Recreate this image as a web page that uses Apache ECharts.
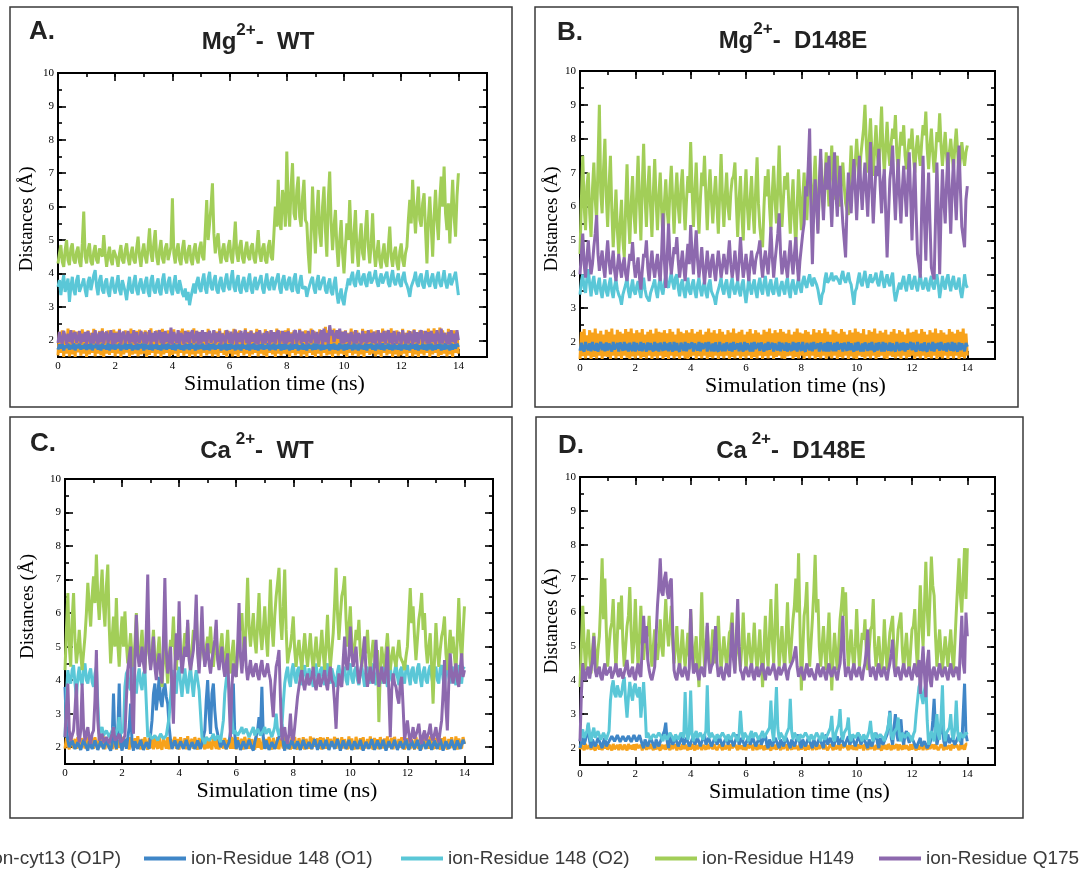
<!DOCTYPE html>
<html><head><meta charset="utf-8">
<script src="https://cdn.jsdelivr.net/npm/echarts@6/dist/echarts.min.js"></script>
<style>html,body{margin:0;padding:0;background:#fff}#c{width:1088px;height:872px}</style>
</head><body><div id="c"></div>
<script>
// ---------- data (sampled every 0.05 ns) ----------
const TIME = [
0,0.05,0.1,0.15,0.2,0.25,0.3,0.35,0.4,0.45,0.5,0.55,0.6,0.65,0.7,0.75,0.8,0.85,0.9,0.95,
1,1.05,1.1,1.15,1.2,1.25,1.3,1.35,1.4,1.45,1.5,1.55,1.6,1.65,1.7,1.75,1.8,1.85,1.9,1.95,
2,2.05,2.1,2.15,2.2,2.25,2.3,2.35,2.4,2.45,2.5,2.55,2.6,2.65,2.7,2.75,2.8,2.85,2.9,2.95,
3,3.05,3.1,3.15,3.2,3.25,3.3,3.35,3.4,3.45,3.5,3.55,3.6,3.65,3.7,3.75,3.8,3.85,3.9,3.95,
4,4.05,4.1,4.15,4.2,4.25,4.3,4.35,4.4,4.45,4.5,4.55,4.6,4.65,4.7,4.75,4.8,4.85,4.9,4.95,
5,5.05,5.1,5.15,5.2,5.25,5.3,5.35,5.4,5.45,5.5,5.55,5.6,5.65,5.7,5.75,5.8,5.85,5.9,5.95,
6,6.05,6.1,6.15,6.2,6.25,6.3,6.35,6.4,6.45,6.5,6.55,6.6,6.65,6.7,6.75,6.8,6.85,6.9,6.95,
7,7.05,7.1,7.15,7.2,7.25,7.3,7.35,7.4,7.45,7.5,7.55,7.6,7.65,7.7,7.75,7.8,7.85,7.9,7.95,
8,8.05,8.1,8.15,8.2,8.25,8.3,8.35,8.4,8.45,8.5,8.55,8.6,8.65,8.7,8.75,8.8,8.85,8.9,8.95,
9,9.05,9.1,9.15,9.2,9.25,9.3,9.35,9.4,9.45,9.5,9.55,9.6,9.65,9.7,9.75,9.8,9.85,9.9,9.95,
10,10.05,10.1,10.15,10.2,10.25,10.3,10.35,10.4,10.45,10.5,10.55,10.6,10.65,10.7,10.75,10.8,10.85,10.9,10.95,
11,11.05,11.1,11.15,11.2,11.25,11.3,11.35,11.4,11.45,11.5,11.55,11.6,11.65,11.7,11.75,11.8,11.85,11.9,11.95,
12,12.05,12.1,12.15,12.2,12.25,12.3,12.35,12.4,12.45,12.5,12.55,12.6,12.65,12.7,12.75,12.8,12.85,12.9,12.95,
13,13.05,13.1,13.15,13.2,13.25,13.3,13.35,13.4,13.45,13.5,13.55,13.6,13.65,13.7,13.75,13.8,13.85,13.9,13.95,
14];
const SERIES_NAMES = ['ion-cyt13 (O1P)','ion-Residue 148 (O1)','ion-Residue 148 (O2)','ion-Residue H149','ion-Residue Q175'];
const X_LABELS = [0,2,4,6,8,10,12,14];
const Y_LABELS = [2,3,4,5,6,7,8,9,10];
const PANEL_TAGS = ['A.','B.','C.','D.'];
const PANEL_ION = ['Mg','Mg','Ca','Ca'];
const PANEL_SUP = ['2+','2+',' 2+',' 2+'];
const PANEL_REST = ['-  WT','-  D148E','-  WT','-  D148E'];

// ===== Panel A: Mg2+ WT =====
const A_O1P = [
1.55,2.25,1.62,2.3,1.5,2.18,1.6,2.35,1.52,2.22,1.58,2.3,1.5,2.26,1.64,2.2,1.54,2.33,1.6,2.24,
1.5,2.3,1.58,2.22,1.62,2.34,1.52,2.2,1.6,2.28,1.55,2.36,1.5,2.24,1.6,2.3,1.56,2.2,1.62,2.32,
1.52,2.26,1.6,2.34,1.5,2.22,1.58,2.3,1.63,2.25,1.5,2.35,1.57,2.2,1.6,2.28,1.52,2.32,1.58,2.24,
1.6,2.3,1.5,2.25,1.56,2.36,1.62,2.2,1.52,2.3,1.6,2.27,1.5,2.34,1.58,2.22,1.62,2.3,1.52,2.26,
1.56,2.33,1.6,2.2,1.5,2.28,1.62,2.35,1.54,2.24,1.6,2.3,1.5,2.22,1.58,2.36,1.52,2.28,1.6,2.25,
1.5,2.3,1.62,2.24,1.55,2.34,1.6,2.2,1.52,2.3,1.58,2.26,1.5,2.35,1.62,2.22,1.56,2.3,1.5,2.28,
1.6,2.22,1.52,2.34,1.58,2.26,1.5,2.3,1.62,2.2,1.55,2.36,1.6,2.25,1.5,2.3,1.58,2.22,1.62,2.34,
1.52,2.28,1.6,2.2,1.55,2.33,1.5,2.26,1.62,2.3,1.58,2.22,1.5,2.35,1.6,2.28,1.54,2.2,1.6,2.3,
1.58,2.36,1.5,2.24,1.62,2.3,1.55,2.2,1.6,2.34,1.52,2.26,1.58,2.3,1.5,2.22,1.62,2.35,1.56,2.28,
1.5,2.22,1.6,2.33,1.52,2.27,1.62,2.4,1.55,2.3,1.58,2.24,1.5,2.35,1.6,2.2,1.54,2.3,1.6,2.26,
1.56,2.3,1.5,2.22,1.62,2.35,1.55,2.26,1.6,2.3,1.52,2.2,1.58,2.34,1.5,2.28,1.62,2.22,1.56,2.32,
1.6,2.26,1.52,2.3,1.58,2.2,1.5,2.35,1.62,2.28,1.55,2.22,1.6,2.36,1.5,2.25,1.58,2.3,1.52,2.24,
1.55,2.34,1.6,2.22,1.5,2.3,1.62,2.26,1.52,2.33,1.58,2.2,1.5,2.3,1.6,2.28,1.55,2.22,1.62,2.35,
1.5,2.28,1.58,2.36,1.62,2.25,1.5,2.38,1.56,2.3,1.6,2.22,1.52,2.34,1.58,2.27,1.5,2.3,1.62,2.24,
1.6];
const A_O1 = [
1.72,1.88,1.75,1.9,1.7,1.84,1.78,1.9,1.72,1.86,1.74,1.91,1.7,1.87,1.76,1.9,1.72,1.85,1.75,1.9,
1.71,1.88,1.74,1.91,1.7,1.86,1.77,1.9,1.72,1.87,1.7,1.9,1.75,1.85,1.72,1.91,1.7,1.88,1.74,1.9,
1.72,1.87,1.76,1.9,1.7,1.86,1.74,1.91,1.72,1.88,1.75,1.9,1.7,1.85,1.73,1.9,1.71,1.88,1.76,1.9,
1.7,1.9,1.74,1.86,1.72,1.91,1.7,1.87,1.75,1.9,1.72,1.85,1.7,1.9,1.74,1.88,1.72,1.9,1.76,1.86,
1.72,1.91,1.7,1.87,1.75,1.9,1.72,1.85,1.7,1.9,1.74,1.88,1.71,1.91,1.76,1.86,1.7,1.9,1.73,1.87,
1.75,1.9,1.71,1.86,1.72,1.91,1.7,1.88,1.74,1.9,1.72,1.85,1.76,1.9,1.7,1.87,1.73,1.91,1.7,1.88,
1.72,1.9,1.75,1.86,1.7,1.91,1.73,1.87,1.7,1.9,1.76,1.85,1.72,1.9,1.7,1.88,1.74,1.91,1.72,1.86,
1.7,1.88,1.74,1.9,1.72,1.85,1.75,1.91,1.7,1.87,1.73,1.9,1.71,1.86,1.76,1.9,1.7,1.88,1.72,1.91,
1.74,1.86,1.7,1.9,1.72,1.88,1.75,1.9,1.7,1.85,1.73,1.91,1.72,1.87,1.7,1.9,1.76,1.86,1.71,1.9,
1.72,1.9,1.74,1.87,1.7,1.91,1.72,1.85,1.75,1.9,1.7,1.88,1.73,1.9,1.72,1.86,1.7,1.91,1.74,1.87,
1.7,1.88,1.72,1.9,1.75,1.86,1.7,1.91,1.73,1.87,1.7,1.9,1.74,1.85,1.72,1.9,1.7,1.88,1.76,1.9,
1.72,1.86,1.7,1.9,1.74,1.88,1.72,1.91,1.7,1.86,1.75,1.9,1.72,1.87,1.7,1.91,1.73,1.85,1.72,1.9,
1.7,1.87,1.74,1.9,1.72,1.86,1.7,1.91,1.75,1.88,1.72,1.9,1.7,1.85,1.74,1.9,1.72,1.87,1.7,1.9,
1.73,1.9,1.7,1.86,1.72,1.88,1.75,1.9,1.7,1.87,1.72,1.91,1.74,1.86,1.7,1.9,1.72,1.88,1.75,1.9,
1.8];
const A_O2 = [
3.6,3.8,3.35,3.7,3.95,3.45,3.4,3.85,3.15,3.6,3.9,3.5,3.35,3.8,3.95,3.45,3.4,3.7,3.85,3.5,
3.3,3.75,3.9,3.5,3.45,3.95,4.1,3.6,3.35,3.8,3.95,3.5,3.4,3.75,3.85,3.45,3.3,3.7,3.9,3.55,
3.4,3.7,3.95,3.5,3.35,3.8,3.85,3.45,3.2,3.6,3.9,3.5,3.4,3.75,3.95,3.5,3.35,3.7,3.85,3.55,
3.4,3.75,3.9,3.45,3.3,3.8,3.95,3.5,3.4,3.7,3.85,3.45,3.35,3.8,4.0,3.55,3.4,3.75,3.9,3.5,
3.35,3.7,3.95,3.5,3.4,3.8,3.85,3.4,3.3,3.55,3.2,3.45,3.05,3.3,3.5,3.7,3.4,3.75,3.9,3.55,
3.45,3.8,4.0,3.55,3.4,3.85,4.05,3.6,3.5,3.8,3.95,3.5,3.4,3.75,3.9,3.55,3.45,3.8,4.0,3.6,
3.5,3.85,4.1,3.6,3.45,3.8,3.95,3.5,3.4,3.75,3.9,3.55,3.45,3.8,4.0,3.55,3.4,3.75,3.9,3.5,
3.45,3.8,3.95,3.55,3.4,3.75,4.0,3.6,3.5,3.8,3.9,3.5,3.45,3.85,4.0,3.55,3.4,3.8,3.95,3.6,
3.5,3.8,3.9,3.55,3.45,3.85,4.0,3.5,3.4,3.75,3.95,3.55,3.5,3.6,3.3,3.5,3.45,3.8,3.9,3.55,
3.4,3.75,3.95,3.5,3.45,3.8,3.9,3.5,3.4,3.7,3.85,3.45,3.35,3.7,3.9,3.4,3.1,3.35,3.55,3.2,
3.05,3.4,3.6,3.85,3.65,3.9,4.05,3.7,3.6,3.95,4.1,3.75,3.65,3.9,4.0,3.7,3.6,3.95,4.05,3.7,
3.65,3.9,4.1,3.75,3.6,3.85,4.0,3.7,3.65,3.95,4.05,3.7,3.6,3.9,4.1,3.75,3.65,3.85,4.0,3.7,
3.6,3.9,4.05,3.75,3.65,3.5,3.3,3.6,3.55,3.85,4.05,3.7,3.6,3.9,4.0,3.65,3.55,3.85,4.1,3.7,
3.6,3.85,4.0,3.7,3.55,3.9,4.05,3.7,3.6,3.85,4.1,3.75,3.55,3.8,4.0,3.65,3.6,3.9,4.05,3.7,
3.35];
const A_H149 = [
4.3,4.6,4.85,4.35,4.2,4.7,5.0,4.4,4.25,4.75,4.9,4.4,4.3,4.65,4.8,4.35,4.2,4.9,5.85,4.5,
4.3,4.7,4.9,4.35,4.25,4.65,4.85,4.4,4.3,4.75,4.8,4.5,5.15,4.6,4.2,4.55,4.8,4.4,4.25,4.7,
4.75,4.45,4.2,4.6,4.85,4.4,4.3,4.7,4.9,4.45,4.25,4.6,4.8,4.4,4.3,4.75,5.1,4.5,4.2,4.65,
4.9,4.5,4.3,4.8,5.35,4.6,4.35,4.9,5.3,4.5,4.25,4.7,5.0,4.45,4.3,4.75,4.9,4.4,4.35,4.8,
6.25,4.6,4.3,4.7,4.9,4.4,4.25,4.75,5.0,4.45,4.3,4.7,4.85,4.4,4.25,4.7,4.9,4.45,4.3,4.75,
4.95,4.5,4.4,5.3,6.2,5.0,5.5,6.0,6.7,5.2,4.6,5.0,5.2,4.6,4.3,4.7,4.9,4.45,4.35,4.8,
5.0,4.5,4.3,4.9,5.55,4.6,4.35,4.8,5.0,4.45,4.3,4.7,4.95,4.5,4.4,4.8,4.9,4.45,4.3,4.75,
5.3,4.6,4.35,4.75,4.9,4.4,4.3,4.8,5.0,4.5,4.4,5.2,6.0,5.4,6.8,5.5,5.3,6.5,6.2,5.4,
7.65,6.0,5.4,6.6,7.3,5.8,5.6,6.5,6.9,5.7,5.4,6.3,6.8,5.6,5.5,4.6,4.0,5.2,6.6,5.5,
4.6,5.8,6.5,5.2,4.8,6.0,6.6,5.3,4.5,6.2,7.05,5.5,4.7,5.4,5.9,4.8,4.2,5.0,5.6,4.6,
4.0,4.8,5.5,5.0,6.2,5.1,4.3,5.2,5.9,4.7,4.2,5.0,5.5,4.6,4.4,5.3,5.9,4.8,4.3,4.9,
5.8,4.7,4.2,4.6,5.0,4.4,4.15,4.6,4.9,4.35,4.2,4.8,5.4,4.5,4.2,4.6,4.8,4.3,4.1,4.65,
4.9,4.4,4.2,4.6,4.8,5.6,6.2,5.5,6.8,5.9,5.2,6.0,6.6,5.6,5.4,6.1,6.4,5.3,4.3,5.6,
6.3,5.4,4.5,5.7,6.5,5.6,5.0,6.2,6.9,6.0,7.2,5.8,5.3,6.1,4.9,5.9,6.8,5.7,5.1,6.3,
7.0];
const A_Q175 = [
1.92,2.25,2.0,1.9,2.28,2.1,1.88,2.2,1.95,2.3,1.9,2.18,2.24,1.92,2.05,2.28,1.9,2.2,1.96,2.25,
1.88,2.27,2.02,1.92,2.22,1.9,2.3,2.05,1.88,2.25,1.94,2.28,1.9,2.15,2.26,1.92,2.1,2.3,1.88,2.22,
1.9,2.22,1.95,2.3,1.88,2.18,2.26,1.92,2.05,2.28,1.9,2.2,1.94,2.3,1.88,2.24,2.0,1.92,2.28,2.1,
1.92,2.25,1.9,2.05,2.3,1.88,2.22,1.96,2.27,1.9,2.15,2.3,1.92,2.24,1.88,2.28,1.95,2.2,1.9,2.38,
1.88,2.25,2.05,1.92,2.3,1.9,2.22,2.1,1.88,2.28,1.94,2.25,1.9,2.2,2.3,1.92,2.05,2.28,1.88,2.24,
1.9,2.3,1.96,2.24,1.88,2.18,2.28,1.92,2.1,2.3,1.9,2.22,1.95,2.28,1.88,2.2,2.04,1.92,2.3,2.15,
1.92,2.26,1.9,2.1,2.32,1.88,2.22,1.95,2.28,1.9,2.15,2.3,1.92,2.22,1.88,2.28,1.96,2.2,1.9,2.25,
1.88,2.3,2.05,1.92,2.22,1.9,2.27,2.1,1.88,2.3,1.94,2.24,1.9,2.2,2.3,1.92,2.05,2.28,1.9,2.24,
1.9,2.28,1.95,2.2,1.88,2.22,2.3,1.92,2.1,2.3,1.9,2.26,1.96,2.2,1.88,2.28,2.02,1.92,2.3,2.15,
1.92,2.25,1.9,2.1,2.3,1.88,2.35,1.95,2.22,1.9,2.45,2.15,2.3,1.95,1.92,2.3,2.05,2.35,1.9,2.25,
1.9,2.28,1.95,2.2,1.88,2.25,2.05,1.92,2.3,1.9,2.22,2.1,1.88,2.28,1.94,2.2,1.9,2.3,1.95,2.22,
1.92,2.26,1.9,2.1,2.3,1.88,2.22,1.96,2.28,1.9,2.15,2.3,1.92,2.22,1.88,2.28,2.0,1.9,2.25,2.1,
1.88,2.3,2.05,1.92,2.22,1.9,2.27,2.1,1.88,2.3,1.94,2.24,1.9,2.2,2.3,1.92,2.05,2.28,1.9,2.24,
1.9,2.28,1.95,2.2,1.88,2.3,2.05,1.92,2.35,1.9,2.22,2.1,1.9,2.25,1.88,2.3,1.95,2.2,1.9,2.3,
2.0];

// ===== Panel B: Mg2+ D148E =====
const B_O1P = [
1.5,2.3,1.58,2.38,1.52,2.2,1.6,2.35,1.5,2.28,1.56,2.4,1.52,2.25,1.6,2.33,1.5,2.22,1.58,2.36,
1.56,2.3,1.5,2.4,1.6,2.22,1.52,2.36,1.58,2.3,1.5,2.25,1.6,2.38,1.54,2.3,1.5,2.4,1.58,2.26,
1.52,2.35,1.6,2.28,1.5,2.38,1.56,2.22,1.52,2.3,1.6,2.36,1.5,2.25,1.58,2.4,1.52,2.3,1.6,2.28,
1.5,2.35,1.56,2.26,1.5,2.38,1.6,2.3,1.52,2.22,1.58,2.4,1.5,2.3,1.6,2.26,1.52,2.35,1.5,2.28,
1.56,2.38,1.6,2.25,1.5,2.3,1.58,2.36,1.52,2.22,1.6,2.3,1.5,2.4,1.56,2.28,1.52,2.35,1.6,2.25,
1.5,2.38,1.58,2.3,1.52,2.22,1.6,2.35,1.5,2.28,1.56,2.4,1.52,2.26,1.6,2.3,1.5,2.36,1.58,2.22,
1.52,2.3,1.6,2.38,1.5,2.25,1.56,2.35,1.52,2.28,1.6,2.22,1.5,2.36,1.58,2.3,1.52,2.4,1.6,2.26,
1.5,2.35,1.56,2.28,1.6,2.38,1.52,2.3,1.5,2.25,1.58,2.36,1.6,2.22,1.5,2.3,1.56,2.4,1.52,2.28,
1.6,2.25,1.5,2.35,1.58,2.3,1.52,2.22,1.6,2.38,1.5,2.28,1.56,2.35,1.52,2.26,1.6,2.4,1.5,2.3,
1.58,2.22,1.52,2.36,1.6,2.3,1.5,2.25,1.56,2.38,1.52,2.3,1.6,2.22,1.5,2.35,1.58,2.28,1.52,2.4,
1.5,2.3,1.6,2.26,1.56,2.38,1.5,2.22,1.58,2.35,1.52,2.3,1.6,2.4,1.5,2.25,1.56,2.33,1.6,2.28,
1.52,2.36,1.5,2.22,1.6,2.3,1.56,2.38,1.52,2.25,1.58,2.35,1.5,2.3,1.6,2.22,1.52,2.4,1.56,2.28,
1.6,2.3,1.5,2.36,1.58,2.25,1.52,2.38,1.6,2.3,1.5,2.22,1.56,2.35,1.52,2.28,1.6,2.4,1.5,2.26,
1.56,2.35,1.52,2.28,1.6,2.22,1.5,2.38,1.58,2.3,1.52,2.25,1.6,2.36,1.5,2.3,1.56,2.4,1.52,2.25,
1.6];
const B_O1 = [
1.74,1.98,1.8,1.72,2.0,1.85,1.76,1.96,1.73,2.0,1.82,1.75,1.97,1.72,1.9,2.0,1.76,1.95,1.73,1.99,
1.75,1.96,1.84,1.72,2.0,1.78,1.75,1.97,1.72,1.99,1.86,1.74,2.0,1.76,1.95,1.72,1.98,1.8,1.74,2.0,
1.72,1.97,1.82,1.75,2.0,1.73,1.96,1.86,1.72,1.99,1.76,1.97,1.8,1.73,2.0,1.75,1.96,1.72,1.98,1.84,
1.74,2.0,1.76,1.96,1.73,1.99,1.82,1.72,2.0,1.75,1.97,1.78,1.72,1.98,1.86,1.74,2.0,1.73,1.96,1.8,
1.75,1.99,1.72,1.96,1.84,1.75,2.0,1.73,1.97,1.8,1.76,1.98,1.72,2.0,1.85,1.74,1.96,1.72,1.99,1.78,
1.72,2.0,1.8,1.74,1.96,1.73,1.99,1.85,1.75,1.97,1.72,2.0,1.78,1.76,1.96,1.73,1.98,1.82,1.72,2.0,
1.76,1.96,1.84,1.73,1.98,1.72,2.0,1.8,1.75,1.97,1.74,1.99,1.86,1.72,1.96,1.76,2.0,1.78,1.73,1.98,
1.72,1.96,1.82,1.76,2.0,1.73,1.97,1.85,1.75,1.99,1.72,1.96,1.8,1.74,2.0,1.76,1.97,1.72,1.99,1.84,
1.74,2.0,1.78,1.72,1.97,1.86,1.76,1.98,1.73,2.0,1.8,1.75,1.96,1.72,1.99,1.84,1.74,1.97,1.72,2.0,
1.72,1.99,1.82,1.74,1.97,1.73,2.0,1.78,1.76,1.96,1.72,1.98,1.85,1.74,2.0,1.76,1.96,1.8,1.72,1.98,
1.75,2.0,1.8,1.73,1.96,1.72,1.99,1.86,1.74,1.97,1.76,2.0,1.78,1.72,1.97,1.75,1.99,1.84,1.73,2.0,
1.72,1.97,1.82,1.75,1.99,1.73,1.96,1.8,1.72,2.0,1.86,1.74,1.97,1.76,1.99,1.72,1.96,1.78,1.75,2.0,
1.76,1.98,1.8,1.72,2.0,1.84,1.75,1.96,1.73,1.99,1.78,1.72,1.97,1.86,1.74,2.0,1.72,1.96,1.8,1.98,
1.74,2.0,1.82,1.76,1.96,1.72,1.98,1.85,1.75,2.0,1.73,1.97,1.8,1.72,1.99,1.76,1.96,1.84,1.73,1.97,
1.86];
const B_O2 = [
3.4,3.8,4.0,3.6,3.45,3.9,4.15,3.7,3.35,3.75,3.95,3.55,3.4,3.7,3.9,3.5,3.3,3.65,3.85,3.5,
3.35,3.7,3.9,3.5,3.3,3.65,3.85,3.55,3.4,3.3,3.1,3.4,3.35,3.7,3.9,3.5,3.3,3.6,3.85,3.5,
3.4,3.65,3.8,3.5,3.3,3.7,3.9,3.55,3.35,3.4,3.2,3.45,3.4,3.7,3.85,3.5,3.3,3.7,3.9,3.55,
3.4,3.75,3.95,3.7,3.6,3.85,4.05,3.75,3.55,3.9,4.0,3.6,3.35,3.7,3.85,3.5,3.3,3.65,3.9,3.5,
3.4,3.7,3.85,3.5,3.3,3.7,3.9,3.55,3.35,3.65,3.8,3.45,3.3,3.7,3.85,3.5,3.4,3.3,3.1,3.4,
3.35,3.7,3.9,3.55,3.4,3.7,3.85,3.5,3.3,3.7,3.9,3.55,3.4,3.65,3.8,3.5,3.35,3.7,3.85,3.45,
3.15,3.5,3.9,3.6,3.4,3.7,3.85,3.5,3.3,3.7,3.9,3.55,3.4,3.75,3.95,3.55,3.35,3.7,3.85,3.5,
3.4,3.7,3.9,3.5,3.35,3.65,3.8,3.55,3.4,3.75,3.9,3.5,3.3,3.7,3.85,3.55,3.4,3.7,3.9,3.6,
3.45,3.8,3.95,3.7,3.6,3.85,4.0,3.75,3.65,3.9,3.95,3.7,3.55,3.3,3.1,3.4,3.5,3.85,4.05,3.75,
3.7,3.9,4.05,3.8,3.75,3.95,4.0,3.8,3.7,3.95,4.1,3.85,3.75,3.9,4.05,3.8,3.7,3.4,3.1,3.5,
3.6,3.85,4.05,3.75,3.65,3.9,4.1,3.8,3.6,3.85,4.0,3.75,3.7,3.9,4.05,3.75,3.65,3.9,4.1,3.8,
3.6,3.85,4.0,3.75,3.65,3.9,4.05,3.5,3.2,3.4,3.6,3.75,3.55,3.8,3.95,3.65,3.5,3.8,4.0,3.7,
3.55,3.8,3.95,3.65,3.5,3.8,4.0,3.7,3.55,3.75,3.9,3.6,3.5,3.8,3.95,3.65,3.55,3.8,4.0,3.7,
3.3,3.6,3.95,3.7,3.55,3.85,4.0,3.7,3.5,3.8,3.95,3.65,3.55,3.75,3.9,3.5,3.3,3.6,4.0,3.7,
3.6];
const B_H149 = [
4.6,6.2,7.5,6.0,5.3,6.6,7.0,5.8,5.1,6.5,7.3,6.2,5.6,7.2,9.0,6.4,5.8,7.1,8.0,6.3,
5.4,6.6,7.5,5.9,4.8,5.6,6.5,5.3,4.6,5.5,6.2,5.0,4.5,6.0,7.25,5.7,4.9,6.1,6.9,5.8,
5.2,6.4,7.5,6.1,5.0,6.6,7.85,6.3,5.4,6.5,7.2,6.0,5.1,6.4,7.4,6.2,5.3,6.3,7.0,5.9,
5.0,6.1,6.8,5.9,5.4,6.5,7.2,6.2,5.2,6.3,7.0,6.0,5.5,6.6,7.1,6.1,5.3,6.2,6.9,6.4,
7.9,6.5,5.4,6.4,7.3,6.1,5.2,6.2,7.0,6.6,7.5,6.3,5.3,6.4,7.1,6.2,5.5,6.3,6.9,6.0,
5.2,6.4,7.55,6.2,5.4,6.3,7.0,6.0,5.6,6.4,6.8,6.9,7.3,6.1,5.1,6.2,6.9,5.8,5.0,6.3,
7.1,6.0,5.3,6.2,6.9,5.9,5.2,6.5,7.45,6.1,5.4,5.0,4.8,6.0,6.9,6.3,7.1,6.0,5.3,6.4,
7.2,6.2,5.5,6.6,7.8,6.3,5.4,6.2,6.9,6.5,7.0,6.0,5.2,6.1,6.8,5.6,4.8,6.0,7.1,6.2,
5.3,6.2,7.0,6.1,5.6,6.6,7.3,6.4,5.8,6.7,7.5,6.3,5.3,6.5,7.4,6.6,5.9,6.8,7.6,6.7,
6.0,7.0,7.8,6.8,6.2,7.0,7.5,6.6,6.0,6.8,7.3,6.6,6.1,5.9,5.75,6.8,7.8,7.0,6.5,7.3,
8.0,7.3,6.8,7.5,7.9,8.3,9.0,7.8,7.0,7.9,8.6,7.6,6.9,7.7,8.4,7.5,7.1,8.0,8.95,7.7,
7.0,7.8,8.5,7.6,7.2,7.9,8.3,8.0,8.7,7.6,7.0,7.7,8.2,7.8,8.4,7.5,7.1,7.6,8.0,7.7,
8.3,7.5,7.0,7.7,8.1,7.6,7.2,7.9,8.4,8.1,8.8,7.7,7.1,7.8,8.3,7.6,7.0,7.5,8.2,7.9,
8.75,7.8,7.2,7.7,8.2,7.5,7.0,7.6,8.0,7.5,7.1,7.8,8.3,7.6,7.0,7.4,7.9,7.5,7.2,7.6,
7.8];
const B_Q175 = [
4.0,4.6,5.2,4.3,3.9,4.5,5.0,4.4,4.0,4.3,4.8,5.2,5.75,4.6,4.1,4.4,4.7,4.2,3.9,4.5,
5.0,4.4,4.0,4.3,4.7,4.1,3.8,4.2,4.6,4.2,3.9,4.3,4.5,4.0,3.8,4.2,4.6,4.4,4.95,4.3,
3.9,4.2,4.5,3.9,3.55,4.1,4.6,4.5,5.0,4.2,3.8,4.3,4.7,4.2,3.9,4.3,4.6,4.1,3.8,4.6,
5.8,4.4,3.6,4.5,5.5,4.5,4.0,4.4,4.8,4.6,5.1,4.4,3.9,4.3,4.7,4.2,3.8,4.4,4.9,4.3,
5.45,4.6,4.0,4.7,5.3,4.4,3.9,4.3,4.8,4.2,3.7,4.2,4.7,4.2,3.9,4.4,4.6,4.1,3.8,4.3,
4.7,4.3,3.9,4.2,4.6,4.3,4.0,4.5,5.0,4.3,3.9,4.2,4.7,4.2,3.8,4.4,5.1,4.4,3.9,4.2,
4.6,4.2,3.8,4.3,4.7,4.3,4.0,4.4,4.6,4.7,5.0,4.3,3.9,4.4,4.7,4.3,4.0,4.6,5.4,4.5,
3.9,4.4,4.8,5.2,5.8,4.6,4.0,4.3,4.7,4.2,3.9,4.5,5.0,4.4,4.0,4.6,5.1,4.3,3.8,4.4,
4.8,5.2,5.5,6.6,6.3,7.2,8.3,5.8,4.3,5.9,6.8,6.0,5.2,6.7,7.7,6.4,5.6,6.6,7.3,6.5,
7.5,6.3,5.4,6.5,7.6,6.4,5.7,6.6,7.2,6.2,5.5,5.0,4.5,6.0,7.0,6.4,5.8,6.7,7.4,6.5,
5.6,6.6,7.5,6.6,5.9,6.7,7.3,6.4,5.7,6.8,7.9,6.5,5.5,6.4,7.2,6.9,7.7,6.6,5.8,6.7,
7.1,5.8,4.5,5.7,6.8,7.2,7.8,6.5,5.6,6.6,7.4,6.3,5.5,6.5,7.2,6.4,5.7,6.8,7.6,6.3,
5.0,6.4,7.3,5.8,4.6,4.3,3.9,5.9,7.5,5.6,4.4,6.0,7.0,5.5,4.2,4.0,3.85,5.6,7.3,5.8,
4.0,5.8,7.1,6.2,5.5,6.7,7.6,6.3,5.2,6.5,7.4,6.4,5.6,6.8,7.8,6.5,5.4,5.1,4.8,6.2,
6.6];

// ===== Panel C: Ca2+ WT =====
const C_O1P = [
1.96,2.28,2.05,1.94,2.32,2.1,1.98,2.25,1.95,2.3,2.02,1.93,2.27,2.12,1.97,2.3,1.95,2.22,2.0,2.26,
1.95,2.3,2.08,1.93,2.26,2.0,1.96,2.32,1.94,2.24,2.1,1.97,2.29,1.95,2.05,2.31,1.93,2.22,1.98,2.27,
1.94,2.31,2.02,1.97,2.26,1.93,2.3,2.1,1.95,2.27,1.98,2.33,2.05,1.94,2.25,1.96,2.3,2.08,1.93,2.28,
1.97,2.26,1.94,2.3,2.05,1.95,2.32,2.0,1.93,2.27,2.1,1.96,2.3,1.94,2.24,2.02,1.98,2.31,1.95,2.25,
1.93,2.3,2.08,1.96,2.27,1.94,2.33,2.02,1.97,2.25,1.95,2.3,2.1,1.93,2.28,1.98,2.24,2.05,1.94,2.31,
1.96,2.27,2.0,1.94,2.32,2.1,1.95,2.26,1.93,2.3,2.05,1.97,2.28,1.94,2.22,2.08,1.96,2.31,1.95,2.26,
1.94,2.3,2.02,1.97,2.25,1.93,2.31,2.1,1.96,2.28,1.95,2.24,2.05,1.93,2.32,1.98,2.27,2.0,1.94,2.3,
1.97,2.25,1.95,2.31,2.08,1.93,2.28,2.02,1.96,2.3,1.94,2.26,2.1,1.97,2.32,1.95,2.24,2.05,1.93,2.29,
1.95,2.31,2.0,1.94,2.27,2.1,1.97,2.3,1.93,2.25,2.05,1.96,2.32,1.94,2.28,2.02,1.98,2.26,1.95,2.3,
1.93,2.28,2.08,1.96,2.3,1.94,2.25,2.02,1.97,2.31,1.95,2.27,2.1,1.93,2.3,1.96,2.24,2.05,1.94,2.32,
1.96,2.26,2.0,1.94,2.31,2.08,1.95,2.27,1.93,2.3,2.05,1.97,2.25,1.95,2.32,2.02,1.94,2.28,1.96,2.24,
1.94,2.3,2.1,1.97,2.26,1.93,2.32,2.0,1.95,2.28,1.94,2.31,2.05,1.96,2.25,1.98,2.3,2.08,1.93,2.27,
1.97,2.28,1.95,2.24,2.05,1.93,2.31,2.02,1.96,2.27,1.94,2.3,2.1,1.97,2.25,1.95,2.32,2.0,1.94,2.28,
1.95,2.3,2.08,1.93,2.27,1.96,2.31,2.02,1.94,2.25,1.97,2.3,2.05,1.95,2.32,1.93,2.26,2.1,1.96,2.3,
2.1];
const C_O1 = [
3.8,2.6,2.2,2.0,1.95,2.2,2.25,1.95,1.9,2.15,2.2,1.92,1.95,2.22,2.25,2.0,1.9,2.18,2.2,1.95,
1.95,2.2,2.25,1.92,1.9,2.18,2.2,1.95,1.95,2.22,2.25,1.98,1.9,2.1,3.6,2.2,1.95,2.4,3.9,2.1,
1.9,2.15,2.25,1.95,1.95,2.6,3.3,2.1,1.9,2.18,2.2,1.95,1.95,2.22,2.25,1.92,1.9,2.15,2.2,1.95,
1.95,2.8,3.6,3.9,3.1,3.5,4.1,3.4,3.2,3.7,3.9,3.5,3.3,2.6,2.2,1.95,1.95,2.2,2.25,1.95,
1.9,2.18,2.2,1.95,1.95,2.22,2.25,1.92,1.9,2.15,2.2,1.95,1.95,2.2,2.25,1.95,1.9,2.3,2.5,3.4,
4.0,3.0,2.4,3.6,3.9,3.1,2.6,2.4,2.2,2.0,1.95,2.2,2.25,1.95,1.9,2.15,2.2,2.8,3.9,2.4,
1.95,2.2,2.25,1.92,1.9,2.18,2.2,1.95,1.95,2.22,2.25,1.98,1.9,2.15,2.2,2.5,2.9,2.4,3.8,2.3,
1.95,2.2,2.25,1.92,1.9,2.15,2.2,1.95,1.95,2.22,2.25,2.4,2.7,2.1,1.9,2.18,2.2,1.95,1.95,2.22,
2.25,1.95,1.9,2.18,2.2,1.92,1.95,2.22,2.25,1.95,1.9,2.15,2.2,1.95,1.95,2.24,2.25,1.92,1.9,2.2,
2.2,1.95,1.95,2.22,2.25,1.92,1.9,2.18,2.2,1.95,1.95,2.24,2.25,1.9,1.9,2.2,2.2,1.95,1.95,2.22,
2.25,1.92,1.9,2.18,2.2,1.95,1.95,2.22,2.25,1.9,1.9,2.16,2.2,1.95,1.95,2.24,2.25,1.92,1.9,2.2,
2.2,1.95,1.95,2.22,2.25,1.9,1.9,2.18,2.2,1.95,1.95,2.22,2.25,1.92,1.9,2.18,2.2,1.95,1.95,2.24,
2.25,1.92,1.9,2.2,2.2,1.95,1.95,2.22,2.25,1.9,1.9,2.18,2.2,1.95,1.95,2.22,2.25,1.92,1.9,2.2,
2.2,1.95,1.95,2.24,2.25,1.9,1.9,2.18,2.2,1.95,1.95,2.22,2.25,1.92,1.9,2.2,2.2,1.95,1.95,2.22,
2.1];
const C_O2 = [
2.3,3.6,4.3,4.0,3.9,4.3,4.45,3.9,3.5,4.1,4.4,4.0,3.85,4.3,4.5,4.0,3.9,4.2,4.35,3.95,
3.8,4.2,4.4,3.3,2.4,2.5,2.6,2.35,2.3,2.5,2.55,2.3,2.35,2.5,2.6,2.35,2.3,2.55,2.9,2.4,
2.35,2.5,3.8,4.2,4.3,3.8,3.7,4.2,4.4,3.9,3.6,4.1,4.35,3.9,3.7,4.2,4.3,3.3,2.3,2.4,
2.4,2.25,2.2,2.35,2.35,2.2,2.25,2.4,2.4,2.25,2.2,2.35,2.35,2.9,3.5,4.1,4.3,3.8,3.6,4.2,
4.4,3.9,3.5,4.0,4.35,3.9,3.6,4.1,4.4,3.9,3.5,4.0,4.3,4.0,3.7,3.0,2.3,2.2,2.1,2.3,
2.35,2.2,2.15,2.3,2.4,2.2,2.2,2.35,2.35,2.15,2.1,2.8,3.6,4.0,4.3,3.8,3.5,2.9,2.4,2.5,
2.55,2.35,2.3,2.5,2.6,2.4,2.35,2.55,2.55,2.3,2.3,2.5,2.6,2.35,2.35,2.55,2.55,2.35,2.3,2.5,
2.6,2.4,2.35,2.55,2.55,2.3,2.3,2.6,3.0,2.5,2.35,2.5,2.6,3.3,3.9,4.2,4.4,4.0,3.8,4.3,
4.5,4.1,3.9,4.3,4.4,4.0,3.85,4.3,4.45,4.05,3.9,4.35,4.4,4.0,3.8,4.25,4.5,4.1,3.9,4.3,
4.4,4.0,3.85,4.3,4.5,4.05,3.9,4.35,4.4,4.0,3.8,4.25,4.45,4.1,3.9,4.3,4.4,4.0,3.85,4.35,
4.5,4.05,3.9,4.3,4.4,4.0,3.85,4.25,4.45,4.1,3.8,4.3,4.4,4.0,3.9,4.35,4.5,4.05,3.85,4.3,
4.4,4.0,3.9,4.35,4.45,4.05,3.8,4.3,4.4,4.0,3.9,4.25,4.5,4.1,3.85,4.3,4.4,4.0,3.9,4.35,
4.45,4.1,3.85,4.3,4.4,4.0,3.9,4.35,4.5,4.05,3.8,4.25,4.4,4.0,3.9,4.3,4.45,4.1,3.85,4.3,
4.4,4.0,3.9,4.35,4.45,4.05,3.8,4.3,4.5,4.1,3.9,4.25,4.4,4.0,3.85,4.3,4.45,4.05,3.9,4.35,
4.4];
const C_H149 = [
4.3,5.5,6.6,5.0,4.4,5.8,6.6,5.2,4.5,4.9,5.5,4.8,4.3,4.8,5.3,6.0,6.9,6.2,5.6,6.5,
7.1,6.3,7.75,6.5,5.8,6.6,7.3,6.2,5.6,6.8,7.45,5.6,4.5,5.2,5.9,5.0,6.45,5.1,4.4,5.3,
5.9,5.0,6.05,5.1,4.5,4.9,5.4,4.7,4.4,5.1,6.0,4.9,4.5,5.0,5.5,4.7,4.3,5.0,5.7,4.8,
4.4,4.9,5.5,4.6,4.2,4.8,5.3,4.3,3.8,4.6,5.3,4.5,3.9,4.7,5.2,5.0,5.9,4.8,4.3,5.0,
5.6,4.8,4.4,4.9,5.4,5.1,5.7,4.7,4.3,4.9,5.5,5.2,6.0,4.9,4.4,4.9,5.4,4.8,4.5,5.0,
5.3,4.8,5.6,4.9,4.4,4.9,5.3,4.7,4.5,5.0,5.4,4.7,4.3,4.9,5.5,4.6,4.2,4.8,5.2,4.5,
4.1,4.8,5.4,5.6,6.0,5.1,4.6,5.8,7.05,5.6,5.0,5.5,6.0,5.2,4.8,5.7,6.6,5.4,4.9,5.5,
6.2,5.3,4.7,5.8,7.0,5.6,5.0,5.9,6.5,6.9,7.35,5.8,5.2,6.2,7.3,5.5,4.5,4.8,5.0,5.4,
5.9,4.9,4.4,4.9,5.2,4.7,4.3,4.9,5.4,4.8,4.4,4.9,5.4,4.7,4.3,4.8,5.3,4.7,4.4,4.9,
5.5,4.8,4.3,5.1,5.95,4.9,4.4,4.9,5.4,6.3,7.35,6.0,5.2,5.9,6.5,6.7,7.1,5.8,5.0,5.6,
6.2,5.1,4.5,5.0,5.5,5.2,5.8,4.8,4.4,4.9,5.3,4.8,5.5,4.7,4.3,4.8,5.2,4.7,4.4,4.9,
2.75,4.3,5.0,4.6,4.4,4.9,5.4,4.7,4.3,4.7,5.0,4.6,4.4,4.8,5.2,4.7,4.6,4.5,4.3,4.7,
5.0,5.9,6.75,5.7,6.2,5.3,4.6,5.2,5.8,6.1,6.6,5.5,6.0,5.0,4.5,5.0,5.4,4.4,3.3,4.6,
5.7,4.9,4.4,4.9,5.3,5.5,5.9,4.8,4.3,4.9,5.5,4.8,5.3,4.7,4.2,5.3,6.45,5.2,4.5,5.4,
6.2];
const C_Q175 = [
2.3,3.2,3.9,2.5,2.2,2.35,2.5,3.1,3.9,2.4,2.15,2.5,3.9,2.6,2.2,2.4,2.6,2.25,2.1,2.4,
2.5,3.4,4.9,2.8,2.2,2.3,2.4,2.15,2.1,2.3,2.35,2.12,2.1,2.4,2.6,2.2,2.15,2.3,2.4,2.15,
2.1,2.25,2.35,3.4,4.3,4.7,5.0,3.0,2.4,4.6,5.95,4.8,4.4,4.6,5.0,4.5,4.2,5.5,7.15,4.8,
4.3,4.7,5.3,4.4,4.0,4.5,4.8,4.2,3.9,5.2,7.05,4.9,4.2,4.6,5.0,3.6,2.7,4.4,5.4,4.6,
6.35,4.8,4.2,4.6,5.0,4.7,5.8,4.6,4.3,4.6,4.9,5.5,6.55,4.8,4.2,5.0,6.2,4.9,4.4,4.7,
5.1,4.5,4.2,4.6,4.9,5.2,5.8,4.6,4.3,4.7,5.0,4.4,4.1,4.5,4.8,3.4,2.3,3.8,4.5,4.2,
4.1,5.0,6.3,4.7,4.2,4.8,5.3,4.4,4.0,4.3,4.6,4.2,4.1,4.4,4.5,4.15,4.0,4.4,4.6,4.2,
4.1,4.3,4.5,4.2,4.0,3.4,2.9,3.8,4.4,4.6,4.9,3.5,2.2,2.4,2.6,2.25,2.1,2.4,3.0,2.3,
2.2,2.6,3.05,3.5,3.8,4.1,4.3,3.9,3.7,4.0,4.2,3.85,3.8,4.1,4.4,3.9,3.7,4.0,4.2,3.8,
3.8,4.1,4.3,3.9,3.7,4.1,4.4,4.0,3.9,3.3,2.55,3.6,4.2,3.9,3.8,4.6,5.3,4.5,4.3,4.7,
5.6,4.8,4.4,4.7,5.0,4.3,3.9,4.2,4.5,4.8,5.3,4.2,3.8,4.1,4.4,4.0,3.9,4.5,5.2,4.3,
3.8,4.1,4.4,4.0,3.9,4.4,5.0,3.6,2.3,3.7,4.2,3.9,3.8,3.5,3.3,3.9,4.1,3.2,2.2,2.5,
2.8,2.4,2.15,2.35,2.6,2.25,2.2,2.5,2.7,2.3,2.1,2.35,2.5,2.2,2.2,2.45,2.7,2.3,2.2,2.4,
2.6,2.3,2.15,2.5,2.8,3.6,4.6,3.2,2.5,3.9,4.8,4.2,3.9,4.2,4.5,4.0,3.8,4.3,4.8,4.1,
4.3];

// ===== Panel D: Ca2+ D148E =====
const D_O1P = [
1.96,2.1,2.02,1.94,2.12,1.98,1.97,2.08,1.95,2.11,2.0,1.93,2.1,2.04,1.96,2.12,1.94,2.09,1.99,2.11,
1.95,2.1,2.03,1.93,2.12,1.97,1.96,2.09,1.94,2.11,2.01,1.95,2.1,2.05,1.93,2.12,1.97,2.08,1.96,2.11,
1.94,2.12,2.0,1.96,2.09,1.93,2.11,2.04,1.95,2.1,1.97,2.12,2.02,1.94,2.08,1.96,2.11,2.0,1.93,2.1,
1.97,2.09,1.95,2.12,2.03,1.94,2.1,1.98,1.96,2.11,1.93,2.08,2.05,1.95,2.12,1.97,2.1,2.0,1.94,2.11,
1.95,2.12,2.02,1.93,2.1,1.97,1.96,2.11,1.94,2.09,2.04,1.95,2.12,1.98,1.93,2.1,1.96,2.11,2.01,1.94,
1.96,2.1,2.03,1.94,2.12,1.97,1.95,2.09,1.93,2.11,2.0,1.96,2.1,2.05,1.94,2.12,1.97,2.08,1.95,2.11,
1.94,2.11,2.0,1.96,2.09,1.93,2.12,2.03,1.95,2.1,1.97,2.11,2.02,1.94,2.08,1.96,2.12,1.99,1.93,2.1,
1.97,2.1,1.95,2.12,2.04,1.94,2.09,1.98,1.96,2.11,1.93,2.1,2.05,1.95,2.12,1.97,2.08,2.01,1.94,2.11,
1.95,2.12,2.02,1.93,2.1,1.96,1.97,2.11,1.94,2.08,2.03,1.95,2.12,1.98,1.93,2.1,1.96,2.11,2.0,1.94,
1.96,2.1,2.04,1.94,2.12,1.97,1.95,2.09,1.93,2.11,2.01,1.96,2.1,2.05,1.94,2.12,1.97,2.08,1.95,2.1,
1.94,2.11,2.0,1.96,2.08,1.93,2.12,2.03,1.95,2.1,1.97,2.11,2.02,1.94,2.09,1.96,2.12,1.99,1.93,2.1,
1.97,2.09,1.95,2.12,2.04,1.94,2.1,1.98,1.96,2.11,1.93,2.1,2.05,1.95,2.12,1.97,2.08,2.0,1.94,2.11,
1.95,2.12,2.02,1.93,2.1,1.96,1.97,2.11,1.94,2.09,2.03,1.95,2.12,1.98,1.93,2.1,1.96,2.11,2.01,1.94,
1.96,2.1,2.04,1.94,2.12,1.97,1.95,2.08,1.93,2.11,2.0,1.96,2.1,2.05,1.94,2.12,1.97,2.09,1.95,2.12,
2.12];
const D_O1 = [
2.0,2.2,2.3,2.1,2.05,2.4,2.7,2.2,2.0,2.25,2.3,2.05,2.05,2.3,2.35,2.1,2.0,2.2,2.3,2.05,
2.05,2.2,2.15,2.35,2.4,2.2,2.2,2.38,2.38,2.18,2.15,2.35,2.4,2.2,2.2,2.36,2.35,2.18,2.15,2.38,
2.4,2.2,2.2,2.38,2.35,2.1,2.0,2.25,2.3,2.05,2.05,2.3,2.35,2.1,2.0,2.25,2.3,2.05,2.05,2.3,
2.3,2.5,2.75,2.2,2.0,2.25,2.35,2.1,2.05,2.3,2.3,2.05,2.0,2.25,2.35,2.1,2.05,2.3,2.3,2.05,
2.0,2.25,2.35,2.1,2.05,2.3,2.3,2.05,2.0,2.3,2.4,2.1,2.05,2.3,2.3,2.05,2.0,2.25,2.35,2.1,
2.05,2.3,2.3,2.05,2.0,2.25,2.35,2.1,2.05,2.3,2.3,2.05,2.0,2.3,2.4,2.1,2.05,2.3,2.3,2.05,
2.0,2.25,2.35,2.1,2.05,2.3,2.3,2.05,2.0,2.25,2.35,2.1,2.05,2.3,2.4,2.1,2.0,2.25,2.3,2.05,
2.05,2.3,2.35,2.1,2.0,2.25,2.3,2.05,2.05,2.3,2.35,2.1,2.0,2.25,2.3,2.05,2.05,2.3,2.4,2.1,
2.0,2.25,2.3,2.05,2.05,2.3,2.35,2.1,2.0,2.25,2.3,2.05,2.05,2.3,2.35,2.1,2.0,2.3,2.4,2.1,
2.05,2.3,2.3,2.05,2.0,2.25,2.35,2.1,2.05,2.3,2.3,2.05,2.0,2.25,2.35,2.1,2.05,2.3,2.3,2.05,
2.0,2.3,2.4,2.1,2.05,2.3,2.35,2.1,2.0,2.25,2.3,2.05,2.05,2.35,2.45,2.15,2.0,2.3,2.35,2.1,
2.05,2.3,2.4,2.7,3.1,2.3,2.1,2.6,3.0,2.4,2.2,2.5,2.85,2.3,2.1,2.4,2.5,2.3,2.15,2.35,
2.4,2.2,2.1,2.0,1.95,2.2,2.3,2.05,2.0,2.2,2.25,2.0,1.95,2.15,2.3,2.8,3.45,2.5,2.1,2.3,
2.35,2.5,2.7,2.2,2.05,2.3,2.4,2.15,2.1,2.3,2.35,2.1,2.05,2.3,2.4,2.2,2.1,3.0,3.9,2.4,
2.2];
const D_O2 = [
2.2,2.45,2.55,2.3,2.25,2.5,2.75,2.35,2.2,2.45,2.6,2.3,2.3,2.5,2.55,2.25,2.2,2.45,2.5,2.25,
2.25,2.5,3.4,3.8,4.0,3.6,3.5,3.85,3.9,3.5,3.6,3.9,4.1,3.4,2.9,3.5,3.95,3.6,3.4,3.8,
3.9,3.6,3.5,3.8,2.9,3.4,3.95,3.2,2.3,2.45,2.5,2.25,2.2,2.4,2.45,2.3,2.25,2.45,2.5,2.3,
2.2,2.4,2.45,2.25,2.25,2.45,2.5,2.3,2.2,2.4,2.45,2.25,2.3,2.45,2.5,2.3,3.65,2.5,2.25,2.45,
3.7,2.4,2.2,2.4,2.5,2.3,2.25,2.45,2.45,2.25,2.2,2.5,3.85,2.4,2.3,2.45,2.5,2.3,2.2,2.4,
2.45,2.3,2.25,2.45,2.5,2.3,2.2,2.4,2.45,2.25,2.25,2.45,2.5,2.3,2.2,2.4,3.1,2.5,2.25,2.45,
2.45,2.3,2.2,2.4,2.5,2.3,2.25,2.45,2.45,2.25,2.2,2.4,2.5,2.3,2.25,2.45,2.45,2.6,3.4,2.5,
2.2,2.9,3.8,2.6,2.25,2.45,2.5,2.3,2.2,2.4,2.45,2.6,3.45,2.5,2.25,2.45,2.5,2.3,2.2,2.4,
2.45,2.3,2.25,2.45,2.5,2.3,2.2,2.4,2.45,2.25,2.25,2.45,2.5,2.3,2.2,2.45,2.45,2.25,2.25,2.4,
2.5,2.6,2.95,2.3,2.2,2.45,2.45,2.7,3.15,2.4,2.25,2.45,2.5,2.6,2.9,2.3,2.2,2.4,2.45,2.3,
2.25,2.45,2.5,2.3,2.2,2.4,2.45,2.25,2.25,2.5,2.8,2.35,2.2,2.45,2.5,2.3,2.25,2.4,2.45,2.3,
2.2,2.4,2.5,2.7,3.05,2.4,2.25,2.45,2.45,2.6,2.9,2.35,2.2,2.45,2.5,2.3,2.25,2.45,2.45,2.3,
2.2,2.4,2.5,3.0,3.4,3.8,3.95,3.5,3.3,3.7,3.9,2.8,2.1,2.3,2.5,2.35,2.2,2.6,3.0,2.4,
2.25,2.9,3.85,2.5,2.2,2.45,2.5,2.6,3.0,2.4,2.25,2.6,3.4,2.5,2.2,2.45,2.5,2.3,2.25,2.45,
2.4];
const D_H149 = [
3.8,5.0,6.2,5.1,4.3,5.0,5.5,4.7,4.2,4.9,5.4,4.8,4.3,4.9,5.3,6.3,7.6,5.8,7.0,5.5,
4.4,5.0,5.5,5.7,6.4,5.2,4.3,5.3,6.3,5.5,6.5,5.1,4.4,5.0,5.6,5.9,6.75,5.4,4.5,5.2,
6.4,5.2,4.4,5.3,6.2,5.1,4.6,5.2,5.6,5.3,5.9,4.9,4.4,5.0,5.5,4.9,4.6,5.1,5.8,5.0,
4.7,5.6,6.4,5.5,5.0,5.6,6.2,5.1,4.5,5.0,5.6,4.8,4.3,4.9,5.5,4.8,4.4,4.9,5.4,4.7,
6.1,5.0,4.3,4.9,5.3,4.5,3.8,5.0,6.6,5.2,4.4,5.0,5.6,4.8,4.3,4.9,5.5,4.8,4.5,5.0,
5.9,4.9,4.3,4.8,5.3,4.8,4.4,4.9,5.4,5.5,6.0,4.9,4.3,4.9,5.5,4.8,4.4,5.0,6.0,5.0,
4.3,4.9,5.4,4.8,4.4,5.0,5.7,4.8,4.3,4.9,5.5,4.6,3.8,4.9,5.9,4.9,4.4,5.4,6.4,5.2,
4.5,5.6,6.85,5.3,4.4,5.0,5.6,4.8,4.3,5.3,6.3,5.1,4.5,5.2,5.8,6.2,7.0,6.0,7.75,5.6,
3.7,4.8,5.9,6.2,6.9,5.2,4.4,5.1,5.8,6.6,7.7,6.0,6.4,5.0,4.4,5.0,5.6,4.8,4.3,5.2,
6.0,4.8,3.7,4.7,5.4,4.8,4.3,5.0,5.8,6.2,6.75,5.9,6.6,5.2,4.4,5.0,5.5,4.8,4.3,5.0,
6.1,5.1,4.4,4.9,5.4,5.2,5.8,4.8,4.3,4.9,5.5,5.6,6.4,5.0,4.4,4.9,5.3,4.7,4.2,4.8,
5.8,4.9,4.3,4.9,5.4,5.4,5.9,4.8,4.2,4.9,5.5,5.5,6.0,4.9,4.3,4.9,5.4,4.7,4.2,4.9,
5.5,5.6,6.1,5.0,4.3,5.6,6.8,5.7,5.0,6.2,7.5,6.1,5.3,6.4,7.65,6.8,6.5,5.3,4.4,5.0,
5.5,4.8,4.3,4.8,5.3,4.8,4.4,5.0,5.5,4.8,4.3,5.1,6.0,6.8,7.6,6.5,6.0,7.0,7.9,6.4,
7.9];
const D_Q175 = [
2.2,3.6,4.5,4.1,4.0,4.3,4.4,4.05,4.0,4.6,5.3,4.3,4.1,4.3,4.4,4.1,4.0,4.3,4.5,4.15,
4.1,4.3,4.4,4.05,4.0,4.3,4.5,4.2,4.1,4.35,4.3,4.05,4.0,4.4,4.6,4.2,4.1,4.3,4.4,4.1,
4.0,4.3,4.5,4.2,4.1,5.0,5.9,5.1,5.6,4.6,4.3,4.1,4.0,4.2,4.4,5.3,6.2,6.8,7.6,6.6,
6.5,7.0,7.2,6.6,6.4,6.9,7.0,5.5,4.3,4.1,4.0,4.3,4.5,4.2,4.1,4.3,4.4,4.15,4.0,4.35,
6.1,4.9,4.2,4.3,4.5,4.2,4.0,4.3,4.4,4.2,4.1,4.8,5.7,4.6,4.2,4.4,4.5,5.0,5.6,4.5,
4.1,4.3,4.4,4.1,4.0,4.3,4.5,4.2,4.1,4.9,5.7,4.6,4.2,5.3,6.4,5.0,4.3,4.2,4.0,4.3,
4.4,4.2,4.1,4.35,4.5,4.15,4.0,4.3,4.4,4.1,4.2,4.4,4.5,4.2,4.0,4.3,4.4,4.15,4.1,4.35,
4.5,4.2,4.0,4.3,4.4,4.15,4.1,4.35,4.5,4.2,4.0,4.3,4.4,4.5,4.6,4.8,5.0,4.4,4.1,4.3,
4.4,4.15,4.0,4.3,4.5,4.2,4.1,4.35,4.4,4.1,4.0,4.3,4.5,4.2,4.1,4.3,4.4,4.15,4.0,4.3,
4.5,4.2,4.1,4.3,4.4,4.15,4.0,4.3,4.5,5.1,5.9,4.6,4.1,4.3,4.4,4.2,4.0,4.3,4.5,4.2,
4.1,4.3,4.4,4.15,4.0,4.3,4.5,4.9,5.5,4.5,4.1,4.3,4.4,4.15,4.0,4.35,4.5,4.2,4.1,4.3,
4.4,4.15,4.0,4.3,4.5,4.8,5.2,4.4,4.1,4.3,4.4,4.15,4.0,4.3,4.5,4.2,4.1,4.3,4.4,4.15,
4.0,4.3,4.5,4.2,4.1,4.6,3.6,4.4,5.0,4.2,3.5,4.5,4.9,4.0,3.8,4.3,4.4,4.15,4.0,4.3,
4.5,4.2,4.1,4.3,4.4,4.15,4.0,4.3,4.5,4.2,4.1,4.3,4.4,4.2,4.0,5.0,5.9,4.5,4.2,6.0,
5.3];

const PANEL_DATA = [
  [A_O1P, A_O1, A_O2, A_H149, A_Q175],
  [B_O1P, B_O1, B_O2, B_H149, B_Q175],
  [C_O1P, C_O1, C_O2, C_H149, C_Q175],
  [D_O1P, D_O1, D_O2, D_H149, D_Q175]
];

// ---------- layout & style ----------
const COLORS = ['#F7A21B','#3F86C7','#5AC7D7','#A2CE58','#8D69AE'];
const LAYOUT = [
  {grid:{left:58,top:73,width:429,height:284}, frame:[10,7,502,400], tag:[29,19], title:[258,22], yGap:21, yPad:[0,8,0,0], xPad:[0,0,0,4]},
  {grid:{left:580,top:71,width:415,height:288}, frame:[535,7,483,400], tag:[557,20], title:[793,21], yGap:17, yPad:[0,8,0,0], xPad:[0,0,0,16]},
  {grid:{left:65,top:479,width:428,height:285}, frame:[10,417,502,401], tag:[30,431], title:[257,431], yGap:27, yPad:[0,0,0,30], xPad:[0,0,0,16]},
  {grid:{left:580,top:477,width:415,height:288}, frame:[536,417,487,401], tag:[558,433], title:[791,431], yGap:13, yPad:[0,0,0,0], xPad:[0,0,0,24]}
];
const LEGEND_LEFT = [-59,144,401,655,879];
const SERIF = 'Liberation Serif';
const SANS = 'Liberation Sans';

const grid=[], xAxis=[], yAxis=[], series=[], title=[], graphic=[];
function tick(len){ return {show:true, inside:true, length:len, lineStyle:{color:'#000', width:1.6}}; }
const noLine = {show:false, onZero:false};
const hideLabel = {show:false};

LAYOUT.forEach((L, g) => {
  grid.push(Object.assign({show:true, borderColor:'#000', borderWidth:2, backgroundColor:'transparent'}, L.grid));
  const xb = {gridIndex:g, type:'value', min:0, max:15, splitLine:{show:false}, axisLine:noLine};
  xAxis.push(Object.assign({}, xb, {position:'bottom', interval:2, axisTick:tick(8),
    axisLabel:{show:true, margin:4, color:'#000', fontFamily:SERIF, fontSize:11, formatter:v => X_LABELS.includes(v) ? String(v) : ''},
    name:'Simulation time (ns)', nameLocation:'middle', nameGap:12,
    nameTextStyle:{fontFamily:SERIF, fontSize:22, color:'#000', padding:L.xPad}}));
  xAxis.push(Object.assign({}, xb, {position:'bottom', interval:1, axisTick:tick(4), axisLabel:hideLabel}));
  xAxis.push(Object.assign({}, xb, {position:'top', interval:2, axisTick:tick(8), axisLabel:hideLabel}));
  xAxis.push(Object.assign({}, xb, {position:'top', interval:1, axisTick:tick(4), axisLabel:hideLabel}));

  const yb = {gridIndex:g, type:'value', splitLine:{show:false}, axisLine:noLine};
  yAxis.push(Object.assign({}, yb, {position:'left', min:1.5, max:10, interval:0.5, axisTick:tick(4),
    axisLabel:{show:true, margin:4, color:'#000', fontFamily:SERIF, fontSize:11, formatter:v => Y_LABELS.includes(v) ? String(v) : ''},
    name:'Distances (Å)', nameLocation:'middle', nameGap:L.yGap, nameRotate:90,
    nameTextStyle:{fontFamily:SERIF, fontSize:19, color:'#000', padding:L.yPad}}));
  yAxis.push(Object.assign({}, yb, {position:'left', inverse:true, min:-10, max:-1.5, interval:1, axisTick:tick(8), axisLabel:hideLabel}));
  yAxis.push(Object.assign({}, yb, {position:'right', min:1.5, max:10, interval:0.5, axisTick:tick(4), axisLabel:hideLabel}));
  yAxis.push(Object.assign({}, yb, {position:'right', inverse:true, min:-10, max:-1.5, interval:1, axisTick:tick(8), axisLabel:hideLabel}));

  PANEL_DATA[g].forEach((vals, s) => {
    series.push({type:'line', name:SERIES_NAMES[s], xAxisIndex:4*g, yAxisIndex:4*g,
      data: TIME.map((t, i) => [t, vals[i]]), showSymbol:false, symbol:'none', silent:true,
      lineStyle:{width:3, color:COLORS[s], join:'bevel'}, itemStyle:{color:COLORS[s]}, animation:false, z:2+s});
  });

  title.push({text:PANEL_TAGS[g], left:L.tag[0], top:L.tag[1], padding:0,
    textStyle:{fontFamily:SANS, fontWeight:'bold', fontSize:26, color:'#222'}});
  title.push({text:'{m|'+PANEL_ION[g]+'}{s|'+PANEL_SUP[g]+'}{m|'+PANEL_REST[g]+'}', left:L.title[0], top:L.title[1], textAlign:'center', padding:0,
    textStyle:{fontFamily:SANS, fontWeight:'bold', fontSize:24, color:'#222',
      rich:{m:{fontFamily:SANS, fontWeight:'bold', fontSize:24, color:'#222', lineHeight:32, verticalAlign:'bottom'},
            s:{fontFamily:SANS, fontWeight:'bold', fontSize:17, color:'#222', lineHeight:15, verticalAlign:'top'}}}});
  graphic.push({type:'rect', silent:true, z:-1, shape:{x:L.frame[0], y:L.frame[1], width:L.frame[2], height:L.frame[3]},
    style:{fill:'none', stroke:'#3a3a3a', lineWidth:1.5}});
});

const legend = SERIES_NAMES.map((n, i) => ({data:[n], left:LEGEND_LEFT[i], top:849, orient:'horizontal',
  icon:'rect', itemWidth:42, itemHeight:4, itemGap:0, padding:0, selectedMode:false,
  textStyle:{fontFamily:SANS, fontSize:19, color:'#3a3a3a'}}));

const chart = echarts.init(document.getElementById('c'), null, {renderer:'canvas', width:1088, height:872});
chart.setOption({animation:false, backgroundColor:'#fff', grid, xAxis, yAxis, series, title, legend, graphic});
</script></body></html>
